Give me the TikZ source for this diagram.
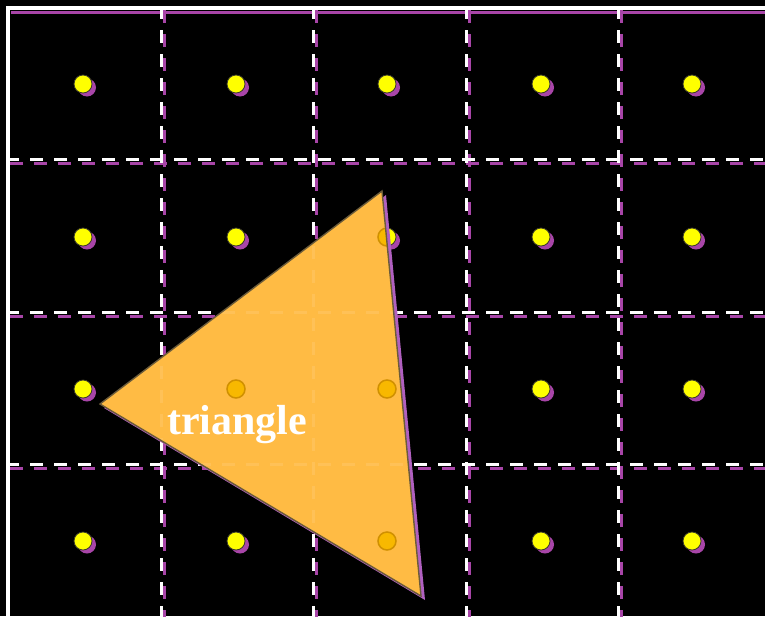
\documentclass[tikz,border=0pt]{standalone}
\usepackage{fontspec}
\setmainfont{Liberation Serif}
\definecolor{sha}{HTML}{A845A8}
\definecolor{trishadow}{HTML}{B060C0}
\definecolor{dotyellow}{HTML}{FFFF00}
\definecolor{dotline}{HTML}{3A3A2A}
\definecolor{trifill}{HTML}{FFBB44}
\definecolor{triline}{HTML}{6B5B3A}
\definecolor{golddot}{HTML}{F8B800}
\definecolor{goldline}{HTML}{D09000}
\tikzset{
  gridline/.style={white, line width=3pt, dash pattern=on 13pt off 11pt},
  gridshadow/.style={sha, line width=3pt, dash pattern=on 13pt off 11pt},
  dotshadow/.style={fill=sha},
  dotstyle/.style={fill=dotyellow, draw=dotline, line width=0.8pt},
  golddotstyle/.style={fill=golddot, draw=goldline, line width=1.5pt},
  label/.style={text=white, font=\bfseries\fontsize{42}{46}\selectfont, inner sep=0pt}
}
\begin{document}
\begin{tikzpicture}[x=1pt,y=-1pt]
\fill[black] (0,0) rectangle (765,616);
\useasboundingbox (0,0) rectangle (765,616);
% shadows of border and grid
\draw[sha, line width=3pt] (11,12.5) -- (765,12.5);
\foreach \x in {161.5,313.5,466,618}
  \draw[gridshadow] (\x+3,10) -- (\x+3,620);
\foreach \y in {159,312,464.5}
  \draw[gridshadow] (10,\y+4) -- (770,\y+4);
% white grid
\foreach \x in {161.5,313.5,466,618}
  \draw[gridline] (\x,6) -- (\x,620);
\foreach \y in {159,312,464.5}
  \draw[gridline] (6,\y) -- (770,\y);
% border
\draw[white, line width=4pt] (8,620) -- (8,8) -- (770,8);
% dots
\foreach \x in {83,236,387,541,692}
  \foreach \y in {84,237,389,541}
  {
    \fill[dotshadow] (\x+4,\y+3.5) circle (9pt);
    \filldraw[dotstyle] (\x,\y) circle (9pt);
  }
% triangle
\coordinate (A) at (100,404);
\coordinate (B) at (382,191);
\coordinate (C) at (421,596);
\fill[trishadow] ([shift={(4,4)}]A) -- ([shift={(4,4)}]B) -- ([shift={(4,4)}]C) -- cycle;
\fill[trifill] (A) -- (B) -- (C) -- cycle;
\begin{scope}
  \clip (A) -- (B) -- (C) -- cycle;
  \foreach \x in {161.5,313.5}
    \draw[white, opacity=0.1, line width=3pt, dash pattern=on 13pt off 11pt] (\x,6) -- (\x,620);
  \foreach \y in {312,464.5}
    \draw[white, opacity=0.1, line width=3pt, dash pattern=on 13pt off 11pt] (6,\y) -- (770,\y);
  \foreach \p in {(236,389),(387,389),(387,541),(387,237),(236,541),(236,237),(83,389)}
    \filldraw[golddotstyle] \p circle (9pt);
\end{scope}
\draw[triline, line width=1.4pt, line join=miter] (A) -- (B) -- (C) -- cycle;
\node[label, anchor=base] (lbl) at (237,434) {triangle};
\end{tikzpicture}
\end{document}
